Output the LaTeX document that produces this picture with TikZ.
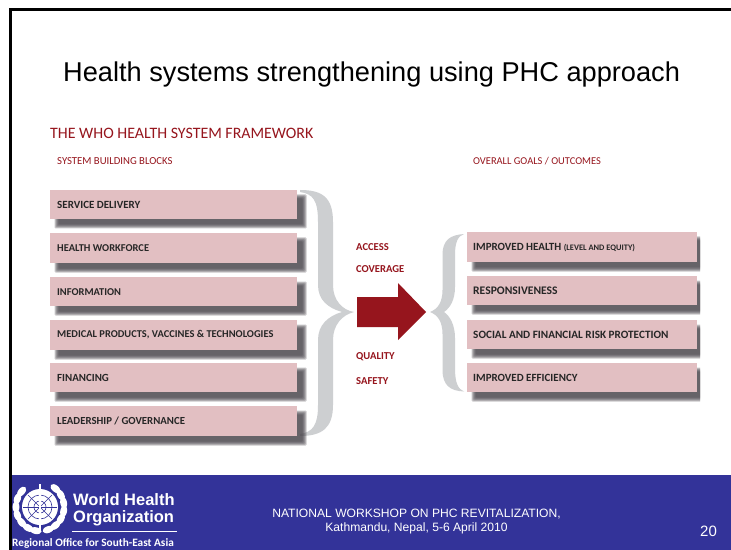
\documentclass[tikz,border=0pt]{standalone}
\usepackage{fontspec}
\setmainfont{Liberation Sans}
\newfontfamily\blockfont{Carlito}
\definecolor{boxpink}{HTML}{E2BFC2}
\definecolor{whored}{HTML}{96151D}
\definecolor{footblue}{HTML}{333399}
\definecolor{bracegrey}{HTML}{CDCFD1}
\definecolor{shadowgrey}{HTML}{4A454C}
\tikzset{
 x=1bp,y=-1bp,
 lab/.style={font=\blockfont\bfseries\fontsize{#1}{11bp}\selectfont,text=black!85,anchor=west,inner sep=0pt},
 lab/.default={10.45bp},
 redlab/.style={font=\blockfont\bfseries\fontsize{10.6bp}{11bp}\selectfont,text=whored,anchor=west,inner sep=0pt},
 brace/.style={fill=bracegrey,draw=none},
 softlayer/.style={fill=shadowgrey,opacity=.3},
 whotext/.style={anchor=west,inner sep=0pt,text=white,font=\bfseries\fontsize{16.5bp}{17bp}\selectfont},
}
\newcommand{\softshadow}[4]{%
  \foreach \d in {2.5,1.5,.5,-.5,-1.5}{
    \fill[softlayer,rounded corners=1bp] (#1-\d,#2-\d) rectangle (#3+\d,#4+\d);
  }%
}
\begin{document}
\begin{tikzpicture}
\useasboundingbox (0,0) rectangle (731,550);
\fill[white] (0,0) rectangle (731,550);
\fill[black] (9,8.5) rectangle (731,11.5);
\fill[black] (9,8.5) rectangle (12,550);

\node[anchor=west,inner sep=0pt,font=\fontsize{27.2bp}{30bp}\selectfont] (title) at (63,74) {Health systems strengthening using PHC approach};
\node[anchor=west,inner sep=0pt,text=whored,font=\blockfont\fontsize{15.9bp}{17bp}\selectfont] (frame) at (50,133) {THE WHO HEALTH SYSTEM FRAMEWORK};
\node[anchor=west,inner sep=0pt,text=whored,font=\blockfont\fontsize{10.7bp}{11bp}\selectfont] (sbb) at (57,161) {SYSTEM BUILDING BLOCKS};
\node[anchor=west,inner sep=0pt,text=whored,font=\blockfont\fontsize{10.45bp}{11bp}\selectfont] (goals) at (473,161) {OVERALL GOALS / OUTCOMES};

% left brace
\path[brace] (300,190) .. controls (322,190) and (333,197) .. (333,222) -- (333,285)
 .. controls (333,300) and (342,310) .. (354,312)
 .. controls (342,315) and (333,325) .. (333,340) -- (333,405)
 .. controls (333,428) and (322,436) .. (300,436) -- (300,434)
 .. controls (313,432) and (318,425) .. (318,405) -- (318,340)
 .. controls (318,325) and (328,316) .. (342,312)
 .. controls (328,308) and (318,300) .. (318,285) -- (318,222)
 .. controls (318,200) and (313,194) .. (300,192) -- cycle;
% right brace
\path[brace] (464,234) .. controls (450,235) and (442.5,240) .. (442.5,255) -- (442.5,290)
 .. controls (442.5,302) and (438,309) .. (430,312)
 .. controls (438,315) and (442.5,322) .. (442.5,334) -- (442.5,370)
 .. controls (442.5,385) and (450,391) .. (464,391.5)
 .. controls (458,389) and (455,383) .. (455,368) -- (455,338)
 .. controls (455,325) and (450,316) .. (444,312)
 .. controls (450,308) and (455,300) .. (455,287) -- (455,255)
 .. controls (455,242) and (458,236) .. (464,234) -- cycle;

% shadows and boxes
\foreach \yy/\hh in {190/29,233/30,277/29,320/30,363/29,406/30}{
  \softshadow{57}{\yy+7}{304}{\yy+\hh+7}
  \fill[boxpink] (50,\yy) rectangle (297,\yy+\hh);
}
\begin{scope}
 \clip (460,225) rectangle (700,405);
 \foreach \yy/\hh in {232/30,276/29,320/29,363/29}{
  \softshadow{474}{\yy+7}{710}{\yy+\hh+7}
  \fill[boxpink] (467,\yy) rectangle (697,\yy+\hh);
 }
\end{scope}

\node[lab=11bp] (l1) at (57,205) {SERVICE DELIVERY};
\node[lab] (l2) at (57,248) {HEALTH WORKFORCE};
\node[lab] (l3) at (57,292) {INFORMATION};
\node[lab] (l4) at (57,335) {MEDICAL PRODUCTS, VACCINES \& TECHNOLOGIES};
\node[lab=10.9bp] (l5) at (57,378) {FINANCING};
\node[lab=10.8bp] (l6) at (57,421) {LEADERSHIP / GOVERNANCE};
\node[lab=11bp] (r1) at (473,248) {IMPROVED HEALTH {\fontsize{8.4bp}{9bp}\selectfont (LEVEL AND EQUITY)}};
\node[lab=11.6bp] (r2) at (473,291) {RESPONSIVENESS};
\node[lab=11.2bp] (r3) at (473,335) {SOCIAL AND FINANCIAL RISK PROTECTION};
\node[lab=11bp] (r4) at (473,378) {IMPROVED EFFICIENCY};

\node[redlab] (access) at (356,247) {ACCESS};
\node[redlab] (coverage) at (356,269) {COVERAGE};
\node[redlab] (quality) at (356,357) {QUALITY};
\node[redlab] (safety) at (356,381) {SAFETY};

\fill[whored] (357,297) -- (398,297) -- (398,283) -- (426,312) -- (398,340) -- (398,327) -- (357,327) -- cycle;

% footer
\fill[footblue] (12,475) rectangle (731,550);
% emblem
\begin{scope}
 \fill[white] (40,507) circle (18);
 \foreach \r in {6,12}{\draw[footblue,line width=.6bp] (40,507) circle (\r);}
 \foreach \a in {0,45,90,135}{\draw[footblue,line width=.5bp] (40,507) ++(\a:-17) -- ++(\a:34);}
 \draw[white,line width=1.6bp] (40,484) -- (40,532);
 \foreach \a in {-50,-30,...,80,100,120,...,230}{
   \fill[white,shift={({40+24*cos(\a)},{507+24*sin(\a)})},rotate=-\a] (0,0) ellipse (3.4 and 5.8);
 }
\end{scope}
\node[whotext] (who1) at (73,499.5) {World Health};
\node[whotext] (who2) at (73,518.5) {Organization};
\fill[white] (72,530.5) rectangle (177,531.5);
\node[anchor=west,inner sep=0pt,text=white,font=\blockfont\bfseries\fontsize{11.3bp}{12bp}\selectfont] (ro) at (12,543) {Regional Office for South-East Asia};
\node[align=center,inner sep=0pt,text=white,font=\fontsize{12.1bp}{14bp}\selectfont] (ws) at (416.5,522) {NATIONAL WORKSHOP ON PHC REVITALIZATION,\\Kathmandu, Nepal, 5-6 April 2010};
\node[inner sep=0pt,text=white,font=\fontsize{15bp}{16bp}\selectfont] (pg) at (708.5,531) {20};
\end{tikzpicture}
\end{document}
